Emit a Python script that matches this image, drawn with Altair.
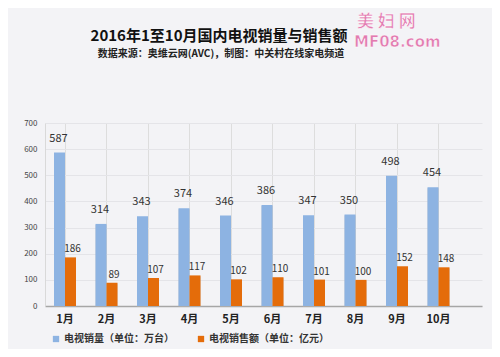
import altair as alt
import pandas as pd

months = ["1月", "2月", "3月", "4月", "5月", "6月", "7月", "8月", "9月", "10月"]
sales_volume = [587, 314, 343, 374, 346, 386, 347, 350, 498, 454]
sales_amount = [186, 89, 107, 117, 102, 110, 101, 100, 152, 148]
series_names = ["电视销量（单位：万台）", "电视销售额（单位：亿元）"]
colors = ["#8db3e2", "#e46c0a"]
title_text = "2016年1至10月国内电视销量与销售额"
subtitle_text = "数据来源：奥维云网(AVC)，制图：中关村在线家电频道"

rows = []
for m, v, a in zip(months, sales_volume, sales_amount):
    rows.append({"month": m, "series": series_names[0], "value": v})
    rows.append({"month": m, "series": series_names[1], "value": a})
df = pd.DataFrame(rows)

font = "Noto Sans CJK SC"

x_enc = alt.X("month:N", sort=months, title=None,
              scale=alt.Scale(paddingInner=0.47, paddingOuter=0.5, align=0.217),
              axis=alt.Axis(labelFont=font, labelFontWeight="bold", labelFontSize=11,
                            labelColor="#222222", labelAngle=0, ticks=False,
                            domainColor="#a6a6a6", domainWidth=1.5, labelPadding=7))
xo = alt.XOffset("series:N", sort=series_names)
y_enc = alt.Y("value:Q", title=None,
              scale=alt.Scale(domain=[0, 700]),
              axis=alt.Axis(values=list(range(0, 701, 100)), labelFont=font, labelFontSize=8,
                            labelColor="#444444", ticks=False, domainColor="#d9d9d9",
                            gridColor="#e4e4e8", labelPadding=8))
color_enc = alt.Color("series:N", sort=series_names,
                      scale=alt.Scale(domain=series_names, range=colors),
                      legend=alt.Legend(orient="none", legendX=6, legendY=211, direction="horizontal",
                                        title=None, symbolType="square", symbolSize=40,
                                        labelFont=font, labelFontSize=10, labelFontWeight="bold",
                                        labelColor="#333333", columnPadding=22, symbolStrokeWidth=0,
                                        labelOffset=3))

base = alt.Chart(df)

shadow = base.mark_bar(color="#b0b0b0", opacity=0.6, xOffset=1.5, yOffset=1).encode(
    x=x_enc, xOffset=xo, y=y_enc)
bars = base.mark_bar().encode(x=x_enc, xOffset=xo, y=y_enc, color=color_enc)

lab_vol = alt.Chart(df[df.series == series_names[0]]).mark_text(
    font=font, fontSize=11, color="#333333", dy=-14, dx=-1
).encode(x=x_enc, xOffset=xo, y=y_enc, text="value:Q")
lab_amt = alt.Chart(df[df.series == series_names[1]]).mark_text(
    font=font, fontSize=10, color="#333333", dy=-8, dx=2
).encode(x=x_enc, xOffset=xo, y=y_enc, text="value:Q")

title = alt.Chart(pd.DataFrame({"t": [title_text]})).mark_text(
    font=font, fontSize=15, fontWeight="bold", color="#111111", align="center", baseline="alphabetic"
).encode(text="t:N", x=alt.value(174), y=alt.value(-82))
subtitle = alt.Chart(pd.DataFrame({"t": [subtitle_text]})).mark_text(
    font=font, fontSize=10, fontWeight="bold", color="#222222", align="center", baseline="alphabetic"
).encode(text="t:N", x=alt.value(176), y=alt.value(-66))

logo1 = alt.Chart(pd.DataFrame({"t": ["美 妇 网"]})).mark_text(
    font=font, fontSize=17, fontWeight="bold", color="#e27bb0", align="left", baseline="alphabetic",
    stroke="white", strokeWidth=0.5
).encode(text="t:N", x=alt.value(312), y=alt.value(-96))
logo2 = alt.Chart(pd.DataFrame({"t": ["MF08.com"]})).mark_text(
    font="DejaVu Sans", fontSize=15, fontWeight="bold", color="#e27bb0", align="left", baseline="alphabetic",
    stroke="white", strokeWidth=0.5
).encode(text="t:N", x=alt.value(309), y=alt.value(-76))

chart = alt.layer(shadow, bars, lab_vol, lab_amt, title, subtitle, logo1, logo2).properties(
    width=437, height=183,
    padding={"left": 37, "top": 115, "right": 10, "bottom": 43},
    autosize=alt.AutoSizeParams(type="none"),
    background="#f3f3f6",
).configure_view(stroke=None).configure_axis(grid=True)

chart.save("out.html", embed_options={"renderer": "svg", "actions": False})
